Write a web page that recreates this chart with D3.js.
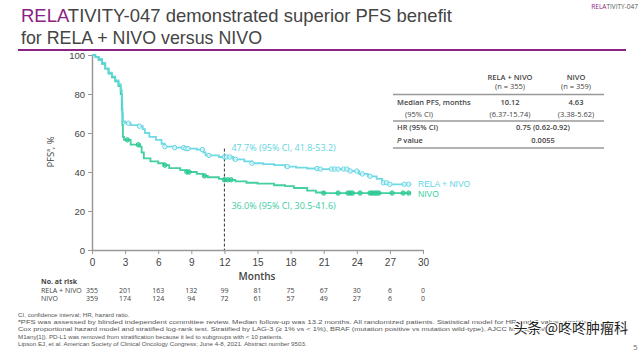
<!DOCTYPE html>
<html><head><meta charset="utf-8">
<script src="https://cdn.jsdelivr.net/npm/d3@7/dist/d3.min.js"></script>
<style>
html,body{margin:0;padding:0;background:#fff;}
svg{display:block;font-family:"Open Sans",Lato,sans-serif;}
</style></head>
<body><svg id="c" width="640" height="355"></svg>
<script>
// ---- data ----
const xTicks = [0,3,6,9,12,15,18,21,24,27,30];
const yTicks = [0,20,40,60,80,100];
const relaMonths = [0,0.3,0.6,0.9,1.2,1.5,1.8,2.1,2.4,2.6,2.7,2.75,2.8,3.0,3.5,4.2,4.6,4.8,5.2,5.8,6.3,6.6,7.5,8.5,9.5,10.1,10.3,11.5,12.8,13.8,14.5,15.5,16.5,17.5,18.5,19.5,20.5,23.3,24.2,25.0,25.8,26.3,26.8,28.9];
const relaPFS    = [100,99,98,96,93,91,89,87,85,82,76,70,66,65,64,63.5,62,60,58,56.5,54.5,53,52.5,52,51.5,50,48.5,47.7,46.5,45.5,44.5,44,43.5,42.8,42.2,41.8,41.5,40.5,39,37.8,36.5,34.5,33.7,33.7];
const nivoMonths = [0,0.3,0.6,0.9,1.2,1.5,1.8,2.1,2.4,2.6,2.7,2.75,2.8,2.9,3.5,4.3,4.5,4.7,5.3,6.0,6.5,7.0,8.0,8.6,9.5,10.1,10.5,11.5,12,13,14,15,16.5,17.5,18.3,19.5,20.3,21,28.9];
const nivoPFS    = [100,99,97.5,95.5,93,90.5,88.5,86.5,84,80,72,64,58,56.5,54,53,50,47,45.5,44.5,43.5,42,41,40,39,38,37.3,36.5,36,35.2,34.5,34,33.2,32.8,31.8,30.5,29.5,29.2,29.2];
const relaCensor = [3.3,4.3,6.6,7.5,8.3,8.5,8.7,10,10.6,12,12.2,12.5,13,14.5,17.7,20.4,20.7,21.7,22.0,22.3,22.8,23.1,23.4,24.0,24.5,25.2,26.4,26.7,27.0,28.3,28.7];
const nivoCensor = [3.2,4.2,6.6,8.6,8.8,10.2,12,12.3,12.6,21,22.3,23.2,23.4,23.6,24.3,25.2,25.4,25.6,25.8,26.0,27.2,28.2,28.7];
const riskRela = [355,201,163,132,99,81,75,67,30,6,0];
const riskNivo = [359,174,124,94,72,61,57,49,27,6,0];
const seriesNames = ["RELA + NIVO","NIVO"];
const ciLabels = ["47.7% (95% CI, 41.8-53.2)","36.0% (95% CI, 30.5-41.6)"];
const tableHead = [["RELA + NIVO","(n = 355)"],["NIVO","(n = 359)"]];
const tableRows = [["Median PFS, months","10.12","4.63"],["(95% CI)","(6.37-15.74)","(3.38-5.62)"],["HR (95% CI)","0.75 (0.62-0.92)"],["P value","0.0055"]];
const footnotes = [
 "CI, confidence interval; HR, hazard ratio.",
 "\u1d43PFS was assessed by blinded independent committee review. Median follow-up was 13.2 months. All randomized patients. Statistical model for HR and P value: stratified",
 "Cox proportional hazard model and stratified log-rank test. Stratified by LAG-3 (\u2265 1% vs < 1%), BRAF (mutation positive vs mutation wild-type), AJCC M stage (M0/M1any[0] vs",
 "M1any[1]). PD-L1 was removed from stratification because it led to subgroups with < 10 patients.",
 "Lipson EJ, et al. American Society of Clinical Oncology Congress; June 4-8, 2021. Abstract number 9503."
];

// ---- styles ----
const cRela = "#5fd6e3", cNivo = "#2fca96", purple = "#8b2383";
const svg = d3.select("#c");
const LIB = "Liberation Sans, Arial, sans-serif";

// title
const t1 = svg.append("text").attr("x",21).attr("y",22).attr("font-size",19).attr("font-family",LIB).attr("fill","#444")
  .attr("textLength",431).attr("lengthAdjust","spacingAndGlyphs");
t1.append("tspan").attr("fill",purple).text("RELA");
t1.append("tspan").text("TIVITY-047 demonstrated superior PFS benefit");
svg.append("text").attr("x",21).attr("y",44).attr("font-size",19).attr("font-family",LIB).attr("fill","#444")
  .attr("textLength",241).attr("lengthAdjust","spacingAndGlyphs").text("for RELA + NIVO versus NIVO");
svg.append("line").attr("x1",18).attr("x2",626).attr("y1",50).attr("y2",50).attr("stroke",purple).attr("stroke-width",2);
const tr = svg.append("text").attr("x",638).attr("y",9).attr("text-anchor","end").attr("font-size",6.5).attr("fill","#555");
tr.append("tspan").attr("fill",purple).text("RELA");
tr.append("tspan").text("TIVITY-047");

// scales
const x = d3.scaleLinear().domain([0,30]).range([92,423]);
const y = d3.scaleLinear().domain([0,100]).range([250,55]);

// axes
const ax = svg.append("g").attr("transform","translate(0,250)")
  .call(d3.axisBottom(x).tickValues(xTicks).tickSize(4).tickPadding(5).tickSizeOuter(0));
ax.selectAll("text").attr("font-size",10).attr("fill","#444");
const ay = svg.append("g").attr("transform","translate(92,0)")
  .call(d3.axisLeft(y).tickValues(yTicks).tickSize(4).tickPadding(3).tickSizeOuter(0));
ay.selectAll("text").attr("font-size",9.5).attr("fill","#444");
svg.selectAll(".domain").attr("stroke","#999").attr("stroke-width",1.5);
svg.selectAll(".tick line").attr("stroke","#999").attr("stroke-width",1);
svg.append("text").attr("transform","translate(54,152) rotate(-90)").attr("text-anchor","middle")
  .attr("font-size",9.5).attr("fill","#444").text("PFS\u1d43, %");
svg.append("text").attr("x",257).attr("y",280).attr("text-anchor","middle").attr("font-size",10)
  .attr("font-weight",600).attr("fill","#444").text("Months");

// dashed line at 12
svg.append("line").attr("x1",x(12)).attr("x2",x(12)).attr("y1",y(52)).attr("y2",y(0))
  .attr("stroke","#333").attr("stroke-width",1).attr("stroke-dasharray","3,2");

// curves
function stepVal(ms, vs, t){ let v = vs[0]; for(let i=0;i<ms.length;i++){ if(ms[i]<=t) v=vs[i]; } return v; }
const line = d3.line().x(d=>x(d[0])).y(d=>y(d[1])).curve(d3.curveStepAfter);
const series = [
  {m:relaMonths,v:relaPFS,c:relaCensor,col:cRela,fill:"#fff"},
  {m:nivoMonths,v:nivoPFS,c:nivoCensor,col:cNivo,fill:cNivo}
];
series.slice().reverse().forEach(s=>{
  svg.append("path").attr("d",line(s.m.map((t,i)=>[t,s.v[i]]))).attr("fill","none")
    .attr("stroke",s.col).attr("stroke-width",1.8).attr("opacity",0.9);
});
series.forEach(s=>{
  svg.append("g").selectAll("circle").data(s.c).join("circle")
    .attr("cx",d=>x(d)).attr("cy",d=>y(stepVal(s.m,s.v,d))).attr("r",2.2)
    .attr("fill",s.fill).attr("fill-opacity",0.6).attr("stroke",s.col).attr("stroke-width",1);
});

// CI labels
svg.append("text").attr("x",x(12)+7).attr("y",151).attr("font-size",9).attr("fill",cRela).text(ciLabels[0]);
svg.append("text").attr("x",x(12)+7).attr("y",209).attr("font-size",9).attr("fill","#3ccba6").text(ciLabels[1]);
// legend
svg.append("text").attr("x",418).attr("y",186.5).attr("font-size",8.5).attr("font-family",LIB)
  .attr("fill",cRela).text(seriesNames[0]);
svg.append("text").attr("x",418).attr("y",196.8).attr("font-size",8.5).attr("font-family",LIB)
  .attr("fill","#38cf9f").text(seriesNames[1]);

// table
const tg = svg.append("g").attr("font-size",7.5).attr("fill","#444");
const col1 = 510, col2 = 576, colM = 543, tl = 393, trr = 604;
tableHead.forEach((h,i)=>{
  const cx = i===0?col1:col2;
  tg.append("text").attr("x",cx).attr("y",80).attr("text-anchor","middle").attr("font-weight",600).text(h[0]);
  tg.append("text").attr("x",cx).attr("y",89).attr("text-anchor","middle").text(h[1]);
});
[94.5,121,148].forEach(yy=>tg.append("line").attr("x1",tl).attr("x2",trr).attr("y1",yy).attr("y2",yy)
  .attr("stroke","#999").attr("stroke-width",1.5));
const rowY = [104.5,116.5,130,143];
tableRows.forEach((r,i)=>{
  const lab = tg.append("text").attr("x",i===1?405:397).attr("y",rowY[i]).attr("font-weight",i===1?400:600);
  if(i===3){ lab.append("tspan").attr("font-style","italic").text("P"); lab.append("tspan").text(" value"); }
  else lab.text(r[0]);
  if(r.length===3){
    tg.append("text").attr("x",col1).attr("y",rowY[i]).attr("text-anchor","middle").attr("font-weight",i===1?400:600).text(r[1]);
    tg.append("text").attr("x",col2).attr("y",rowY[i]).attr("text-anchor","middle").attr("font-weight",i===1?400:600).text(r[2]);
  } else {
    tg.append("text").attr("x",colM).attr("y",rowY[i]).attr("text-anchor","middle").attr("font-weight",600).text(r[1]);
  }
});

// number at risk
const rg = svg.append("g").attr("font-size",7).attr("fill","#444");
rg.append("text").attr("x",41).attr("y",284).attr("font-weight",700).text("No. at risk");
rg.append("text").attr("x",41).attr("y",292.5).text(seriesNames[0]);
rg.append("text").attr("x",41).attr("y",300.5).text(seriesNames[1]);
[riskRela,riskNivo].forEach((arr,j)=>{
  rg.selectAll(null).data(arr).join("text").attr("x",(d,i)=>x(xTicks[i])).attr("y",292.5+8*j)
    .attr("text-anchor","middle").text(d=>d);
});

// footnotes
const fy = [316.5,323.9,331.3,338.7,346.1], fl = [null,574,574,null,null];
footnotes.forEach((f,i)=>{
  const t = svg.append("text").attr("x",18).attr("y",fy[i]).attr("font-size",6.2)
    .attr("font-family",LIB).attr("fill","#555");
  if(fl[i]) t.attr("textLength",fl[i]).attr("lengthAdjust","spacingAndGlyphs");
  t.text(f);
});

// watermark & page number
svg.append("text").attr("x",628).attr("y",333).attr("text-anchor","end").attr("font-size",14)
  .attr("font-family","Noto Sans CJK SC").attr("fill","#222").attr("stroke","#fff").attr("stroke-width",2)
  .attr("paint-order","stroke").text("头条 @咚咚肿瘤科");
svg.append("text").attr("x",633).attr("y",350).attr("font-size",8).attr("fill","#666").text("5");
</script></body></html>
